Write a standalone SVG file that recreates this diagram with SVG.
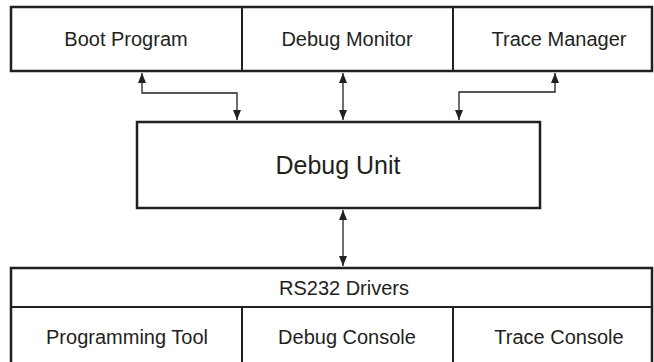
<svg xmlns="http://www.w3.org/2000/svg" width="654" height="362" viewBox="0 0 654 362">
<style>
.box{fill:#fff;stroke:#231f20;stroke-width:2.5}
.div{stroke:#231f20;stroke-width:2}
.lbl{font-family:"Liberation Sans",Arial,sans-serif;font-size:20px;fill:#231f20;text-anchor:middle;dominant-baseline:central}
.big{font-size:25px}
.con{fill:none;stroke:#231f20;stroke-width:1.3;marker-start:url(#ah);marker-end:url(#ah)}
</style>
<defs>
<marker id="ah" viewBox="0 0 10 8" refX="10" refY="4" markerWidth="10" markerHeight="8" markerUnits="userSpaceOnUse" orient="auto-start-reverse">
<path d="M0,0 L10,4 L0,8 Z" fill="#231f20"/>
</marker>
</defs>
<rect width="654" height="362" fill="#fff"/>
<g id="top-row">
<rect class="box" x="11" y="7" width="641" height="64"/>
<line class="div" x1="242" y1="7" x2="242" y2="71"/>
<line class="div" x1="453" y1="7" x2="453" y2="71"/>
</g>
<g id="boot-program"><text class="lbl" x="126" y="39">Boot Program</text></g>
<g id="debug-monitor"><text class="lbl" x="347" y="39">Debug Monitor</text></g>
<g id="trace-manager"><text class="lbl" x="559" y="39">Trace Manager</text></g>
<g id="debug-unit">
<rect class="box" x="137" y="122" width="403" height="86"/>
<text class="lbl big" x="338" y="165">Debug Unit</text>
</g>
<g id="bottom-block">
<rect class="box" x="11" y="268" width="641" height="100"/>
<line class="div" x1="11" y1="307" x2="652" y2="307"/>
<line class="div" x1="242" y1="307" x2="242" y2="368"/>
<line class="div" x1="453" y1="307" x2="453" y2="368"/>
</g>
<g id="rs232-drivers"><text class="lbl" x="344" y="288">RS232 Drivers</text></g>
<g id="programming-tool"><text class="lbl" x="127" y="337">Programming Tool</text></g>
<g id="debug-console"><text class="lbl" x="347" y="337">Debug Console</text></g>
<g id="trace-console"><text class="lbl" x="559" y="337">Trace Console</text></g>
<g id="connectors">
<path class="con" d="M142,73 V93 H237 V120"/>
<path class="con" d="M343,73 V120"/>
<path class="con" d="M555,73 V92 H459 V120"/>
<path class="con" d="M343,210 V266"/>
</g>
</svg>
